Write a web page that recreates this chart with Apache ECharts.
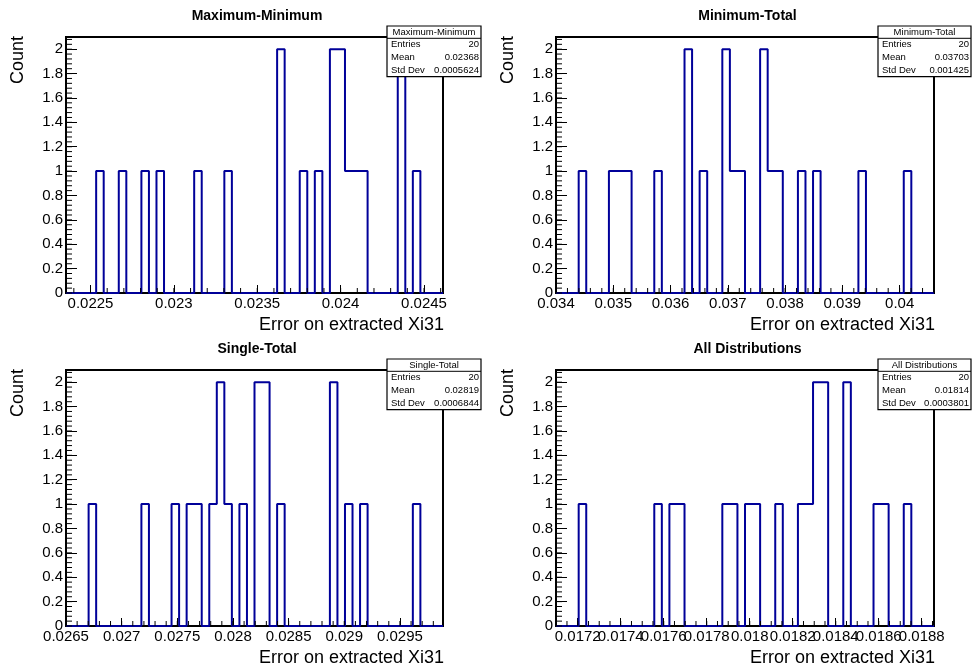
<!DOCTYPE html>
<html><head><meta charset="utf-8">
<script src="https://cdn.jsdelivr.net/npm/echarts@6/dist/echarts.min.js"></script>
<style>html,body{margin:0;padding:0;background:#fff}#c{width:972px;height:668px}</style>
</head><body><div id="c"></div>
<script>
// ---------------- data ----------------
const titles = ['Maximum-Minimum', 'Minimum-Total', 'Single-Total', 'All Distributions'];
const xTitle = 'Error on extracted Xi31';
const yTitle = 'Count';
const xMin = [0.022353, 0.0340, 0.0265, 0.017099];
const xMax = [0.024614, 0.0406, 0.029887, 0.018857];
const counts1 = [0,0,0,0,1, 0,0,1,0,0, 1,0,1,0,0, 0,0,1,0,0, 0,1,0,0,0, 0,0,0,2,0, 0,1,0,1,0, 2,2,1,1,1, 0,0,0,0,2, 0,1,0,0,0];
const counts2 = [0,0,0,1,0, 0,0,1,1,1, 0,0,0,1,0, 0,0,2,0,1, 0,0,2,1,1, 0,0,2,1,1, 0,0,1,0,1, 0,0,0,0,0, 1,0,0,0,0, 0,1,0,0,0];
const counts3 = [0,0,0,1,0, 0,0,0,0,0, 1,0,0,0,1, 0,1,1,0,1, 2,1,0,1,0, 2,2,0,1,0, 0,0,0,0,0, 2,0,1,0,1, 0,0,0,0,0, 0,1,0,0,0];
const counts4 = [0,0,0,1,0, 0,0,0,0,0, 0,0,0,1,0, 1,1,0,0,0, 0,0,1,1,0, 1,1,0,0,1, 0,0,1,1,2, 2,0,0,2,0, 0,0,1,1,0, 0,1,0,0,0];
const xTickLabels1 = ['0.0225','0.023','0.0235','0.024','0.0245'];
const xTickLabels2 = ['0.034','0.035','0.036','0.037','0.038','0.039','0.04'];
const xTickLabels3 = ['0.0265','0.027','0.0275','0.028','0.0285','0.029','0.0295'];
const xTickLabels4 = ['0.0172','0.0174','0.0176','0.0178','0.018','0.0182','0.0184','0.0186','0.0188'];
const xMinorStep = [0.0001, 0.0002, 0.0001, 0.00005];
const yTickLabels = ['0','0.2','0.4','0.6','0.8','1','1.2','1.4','1.6','1.8','2'];
const yMax = 2.1;
const yMinorStep = 0.04;
const statEntries = ['20','20','20','20'];
const statMean = ['0.02368','0.03703','0.02819','0.01814'];
const statStd = ['0.0005624','0.001425','0.0006844','0.0003801'];

// ---------------- layout ----------------
const allCounts = [counts1, counts2, counts3, counts4];
const allTicks = [xTickLabels1, xTickLabels2, xTickLabels3, xTickLabels4];
const grids = [
  {left: 66, top: 37, width: 377, height: 256},
  {left: 556, top: 37, width: 378, height: 256},
  {left: 66, top: 370, width: 377, height: 256},
  {left: 556, top: 370, width: 378, height: 256}
];
const FONT = 'Liberation Sans, Arial, Helvetica, sans-serif';
const LINE = '#000099';

function minorValues(lo, hi, step) {
  const out = [];
  let k = Math.ceil(lo / step - 1e-9);
  while (k * step <= hi + 1e-12) { out.push(+(k * step).toPrecision(10)); k++; }
  return out;
}
function histPoints(counts, lo, hi) {
  const n = counts.length, w = (hi - lo) / n;
  const pts = [[lo, 0]];
  for (let i = 0; i < n; i++) {
    pts.push([lo + i * w, counts[i]]);
    pts.push([lo + (i + 1) * w, counts[i]]);
  }
  pts.push([hi, 0]);
  return pts;
}
function labelFor(strs) {
  return function (v) {
    let best = strs[0], bd = Infinity;
    for (const s of strs) { const d = Math.abs(parseFloat(s) - v); if (d < bd) { bd = d; best = s; } }
    return best;
  };
}

const xAxes = [], yAxes = [], series = [], graphics = [];
const yMajor = yTickLabels.map(parseFloat);
const yMinor = minorValues(0, yMax, yMinorStep);
const axisLineStyle = {show: true, onZero: false, lineStyle: {color: '#000', width: 2}};
const labelStyle = {color: '#000', fontSize: 15, fontFamily: FONT};

grids.forEach((g, i) => {
  const majors = allTicks[i].map(parseFloat);
  const labA = majors.filter((v, k) => k % 2 === 0);
  xAxes.push({
    type: 'value', gridIndex: i, min: xMin[i], max: xMax[i], position: 'bottom',
    axisLine: axisLineStyle,
    axisTick: {show: true, inside: true, length: 8, customValues: majors, lineStyle: {color: '#000', width: 1}},
    axisLabel: Object.assign({show: true, customValues: labA, showMinLabel: true, showMaxLabel: true,
      formatter: labelFor(allTicks[i]), margin: 3}, labelStyle),
    splitLine: {show: false}
  });
  yAxes.push({
    type: 'value', gridIndex: i, min: 0, max: yMax, position: 'left',
    axisLine: axisLineStyle,
    axisTick: {show: true, inside: true, length: 11, customValues: yMajor, lineStyle: {color: '#000', width: 1}},
    axisLabel: Object.assign({show: true, customValues: yMajor, showMinLabel: true, showMaxLabel: true,
      formatter: labelFor(yTickLabels), margin: 3}, labelStyle),
    splitLine: {show: false}
  });
});
// companion axes carry every other x label, so overlapping neighbours are all drawn
grids.forEach((g, i) => {
  const majors = allTicks[i].map(parseFloat);
  const labB = majors.filter((v, k) => k % 2 === 1);
  xAxes.push({
    type: 'value', gridIndex: i, min: xMin[i], max: xMax[i], position: 'bottom', offset: 0,
    axisLine: {show: false}, splitLine: {show: false}, axisTick: {show: false},
    axisLabel: Object.assign({show: true, customValues: labB, showMinLabel: true, showMaxLabel: true,
      formatter: labelFor(allTicks[i]), margin: 3}, labelStyle)
  });
  yAxes.push({
    type: 'value', gridIndex: i, min: 0, max: yMax, position: 'left', offset: 0,
    axisLine: {show: false}, splitLine: {show: false}, axisTick: {show: false}, axisLabel: {show: false}
  });
});

grids.forEach((g, i) => {
  series.push({
    type: 'line', xAxisIndex: i, yAxisIndex: i, data: histPoints(allCounts[i], xMin[i], xMax[i]),
    showSymbol: false, symbol: 'none', clip: true, silent: true, z: 5,
    lineStyle: {color: LINE, width: 2}
  });
  series.push({type: 'line', xAxisIndex: i + 4, yAxisIndex: i + 4, data: [], silent: true, symbol: 'none'});
  // minor ticks drawn as thin rectangular markers placed through the axes' scales
  series.push({
    type: 'scatter', xAxisIndex: i, yAxisIndex: i, silent: true, clip: false, z: 6,
    data: minorValues(xMin[i], xMax[i], xMinorStep[i]).map(v => [v, 0]),
    symbol: 'rect', symbolSize: [1, 5], symbolOffset: [0, -2.5],
    itemStyle: {color: '#000', opacity: 1}
  });
  series.push({
    type: 'scatter', xAxisIndex: i, yAxisIndex: i, silent: true, clip: false, z: 6,
    data: yMinor.map(v => [xMin[i], v]),
    symbol: 'rect', symbolSize: [6, 1], symbolOffset: [3, 0],
    itemStyle: {color: '#000', opacity: 1}
  });
});

// titles, axis titles, stat boxes
grids.forEach((g, i) => {
  const right = g.left + g.width;
  const dy = g.top - 37;
  graphics.push({type: 'text', z: 100, x: g.left + g.width / 2 + 2.5, y: 16 + dy,
    style: {text: titles[i], fontFamily: FONT, fontSize: 14, fontWeight: 'bold', fill: '#000', align: 'center', verticalAlign: 'middle'}});
  graphics.push({type: 'text', z: 100, x: right + 1, y: 325 + dy,
    style: {text: xTitle, fontFamily: FONT, fontSize: 18, fill: '#000', align: 'right', verticalAlign: 'middle'}});
  graphics.push({type: 'text', z: 100, x: g.left - 48, y: g.top - 1, rotation: Math.PI / 2,
    style: {text: yTitle, fontFamily: FONT, fontSize: 18, fill: '#000', align: 'right', verticalAlign: 'middle'}});
  const bl = i % 2 === 0 ? 387 : 878;
  const br = i % 2 === 0 ? 481 : 971;
  const bt = 26 + dy, bs = 38.3 + dy, bb = 76.7 + dy;
  graphics.push({type: 'rect', z: 100, shape: {x: bl, y: bt, width: br - bl, height: bb - bt},
    style: {fill: '#fff', stroke: '#000', lineWidth: 1.2}});
  graphics.push({type: 'line', z: 101, shape: {x1: bl, y1: bs, x2: br, y2: bs}, style: {stroke: '#000', lineWidth: 1}});
  graphics.push({type: 'text', z: 102, x: (bl + br) / 2, y: (bt + bs) / 2,
    style: {text: titles[i], fontFamily: FONT, fontSize: 9.5, fill: '#000', align: 'center', verticalAlign: 'middle'}});
  const rows = [['Entries', statEntries[i]], ['Mean', statMean[i]], ['Std Dev', statStd[i]]];
  const rh = (bb - bs) / 3;
  rows.forEach((r, k) => {
    const cy = bs + rh * (k + 0.5);
    graphics.push({type: 'text', z: 102, x: bl + 4, y: cy,
      style: {text: r[0], fontFamily: FONT, fontSize: 9.5, fill: '#000', align: 'left', verticalAlign: 'middle'}});
    graphics.push({type: 'text', z: 102, x: br - 2, y: cy,
      style: {text: r[1], fontFamily: FONT, fontSize: 9.5, fill: '#000', align: 'right', verticalAlign: 'middle'}});
  });
});

const chart = echarts.init(document.getElementById('c'), null, {renderer: 'canvas'});
chart.setOption({
  animation: false,
  backgroundColor: '#fff',
  grid: grids.map(g => ({show: true, borderColor: '#000', borderWidth: 2, backgroundColor: 'transparent', containLabel: false,
    left: g.left, top: g.top, width: g.width, height: g.height})),
  xAxis: xAxes,
  yAxis: yAxes,
  series: series,
  graphic: graphics
});
</script></body></html>
